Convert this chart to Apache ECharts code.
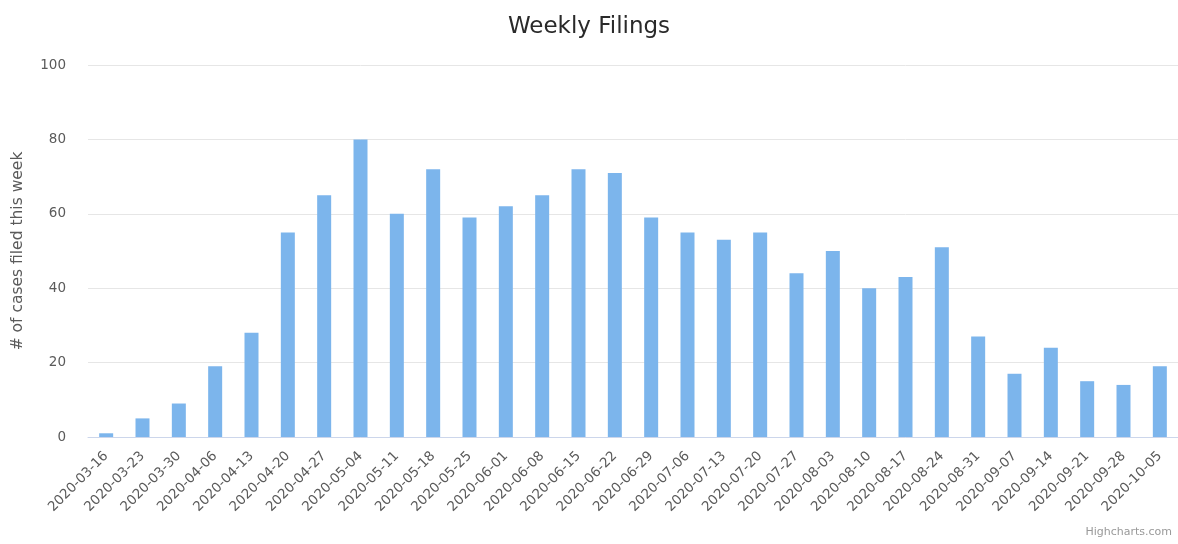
<!DOCTYPE html>
<html>
<head>
<meta charset="utf-8">
<script src="https://cdn.jsdelivr.net/npm/echarts@6/dist/echarts.min.js"></script>
<style>
  html, body { margin: 0; padding: 0; background: #fff; }
  #chart { width: 1178px; height: 544px; }
</style>
</head>
<body>
<div id="chart"></div>
<script>
// weekly filing counts
const weeks = [
  '2020-03-16', '2020-03-23', '2020-03-30', '2020-04-06', '2020-04-13', '2020-04-20',
  '2020-04-27', '2020-05-04', '2020-05-11', '2020-05-18', '2020-05-25', '2020-06-01',
  '2020-06-08', '2020-06-15', '2020-06-22', '2020-06-29', '2020-07-06', '2020-07-13',
  '2020-07-20', '2020-07-27', '2020-08-03', '2020-08-10', '2020-08-17', '2020-08-24',
  '2020-08-31', '2020-09-07', '2020-09-14', '2020-09-21', '2020-09-28', '2020-10-05'
]
const filings = [
  1, 5, 9, 19, 28, 55,
  65, 80, 60, 72, 59, 62,
  65, 72, 71, 59, 55, 53,
  55, 44, 50, 40, 43, 51,
  27, 17, 24, 15, 14, 19
]

const font = '"DejaVu Sans", sans-serif'
const labelColor = '#5a5a5a'

const chart = echarts.init(document.getElementById('chart'))
chart.setOption({
  animation: false,
  textStyle: { fontFamily: font },
  title: {
    text: 'Weekly Filings',
    left: 'center',
    top: 11,
    textStyle: { fontSize: 23, fontWeight: 'normal', color: '#2a2a2a', fontFamily: font }
  },
  grid: { left: 88, right: 0, top: 65, bottom: 107, containLabel: false },
  xAxis: {
    type: 'category',
    data: weeks,
    axisLine: { lineStyle: { color: '#ccd6eb' } },
    axisTick: { show: false },
    axisLabel: { rotate: 45, interval: 0, color: labelColor, fontSize: 13.5, margin: 17 }
  },
  yAxis: {
    type: 'value',
    min: 0,
    max: 100,
    interval: 20,
    name: '# of cases filed this week',
    nameLocation: 'middle',
    nameGap: 62,
    nameTextStyle: { color: labelColor, fontSize: 15.5 },
    axisLine: { show: false },
    axisTick: { show: false },
    axisLabel: { color: labelColor, fontSize: 13.5, margin: 22 },
    splitLine: { lineStyle: { color: '#e6e6e6' } }
  },
  series: [{
    type: 'bar',
    data: filings,
    barWidth: 14,
    itemStyle: { color: '#7cb5ec' }
  }],
  graphic: [{
    type: 'text',
    right: 6,
    bottom: 6,
    style: { text: 'Highcharts.com', fill: '#999999', fontSize: 11, fontFamily: font }
  }]
})
</script>
</body>
</html>
